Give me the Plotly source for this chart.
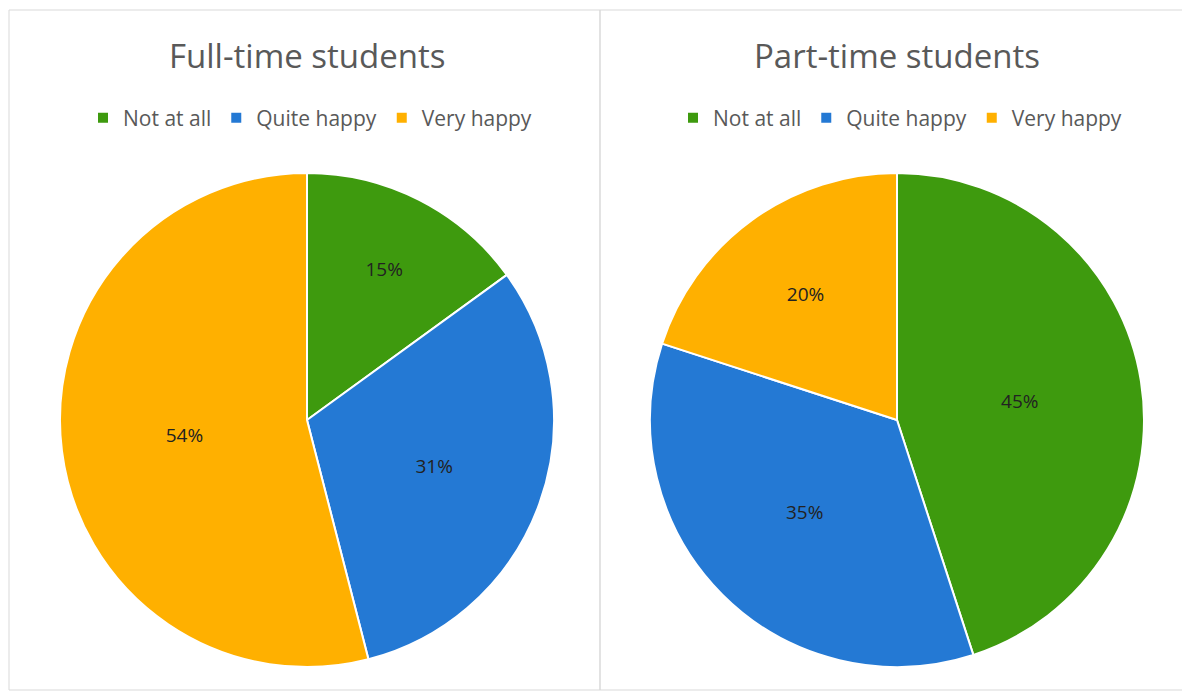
import plotly.graph_objects as go

categories = ["Not at all", "Quite happy", "Very happy"]
full_time = [15, 31, 54]
part_time = [45, 35, 20]
titles = ["Full-time students", "Part-time students"]
colors = ["#3E9A0E", "#2479D4", "#FFB000"]

# page body has an 8px margin; compensate so screen positions match
OFF = 8
W, H = 1190 - OFF, 693 - OFF

def px(x):
    return (x - OFF) / W

def py(y):
    return 1 - (y - OFF) / H

# second legend needs distinct labels (zero-width space suffix) so entries are not merged
labels2 = [c + "\u200b" for c in categories]

fig = go.Figure()

fig.add_trace(go.Pie(
    labels=categories, values=full_time, sort=False, direction="clockwise", rotation=0,
    marker=dict(colors=colors, line=dict(color="white", width=2)),
    textinfo="percent", texttemplate="%{percent:.0%}", textposition="inside",
    insidetextorientation="horizontal",
    textfont=dict(size=19, color="#222222", family="Open Sans"),
    domain=dict(x=[px(60), px(554)], y=[py(667), py(173)]),
    legend="legend", name=titles[0],
))
fig.add_trace(go.Pie(
    labels=labels2, values=part_time, sort=False, direction="clockwise", rotation=0,
    marker=dict(colors=colors, line=dict(color="white", width=2)),
    textinfo="percent", texttemplate="%{percent:.0%}", textposition="inside",
    insidetextorientation="horizontal",
    textfont=dict(size=19, color="#222222", family="Open Sans"),
    domain=dict(x=[px(650), px(1144)], y=[py(667), py(173)]),
    legend="legend2", name=titles[1],
))

legend_common = dict(orientation="h", xanchor="center", yanchor="middle",
                     font=dict(size=21, color="#595959", family="Open Sans"),
                     bgcolor="rgba(0,0,0,0)", itemwidth=30, traceorder="normal")

fig.update_layout(
    width=W, height=H,
    margin=dict(l=0, r=0, t=0, b=0),
    paper_bgcolor="white",
    legend=dict(x=px(310), y=py(118), **legend_common),
    legend2=dict(x=px(900), y=py(118), **legend_common),
    shapes=[
        dict(type="rect", xref="paper", yref="paper", x0=px(9), x1=px(600), y0=py(690), y1=py(10),
             line=dict(color="#D9D9D9", width=1)),
        dict(type="rect", xref="paper", yref="paper", x0=px(600), x1=px(1189), y0=py(690), y1=py(10),
             line=dict(color="#D9D9D9", width=1)),
    ],
    annotations=[
        dict(text=titles[0], x=px(307), y=py(55), xref="paper", yref="paper", showarrow=False,
             xanchor="center", yanchor="middle", font=dict(size=33, color="#595959", family="Open Sans")),
        dict(text=titles[1], x=px(897), y=py(55), xref="paper", yref="paper", showarrow=False,
             xanchor="center", yanchor="middle", font=dict(size=33, color="#595959", family="Open Sans")),
    ],
)

fig.write_html("out.html")
